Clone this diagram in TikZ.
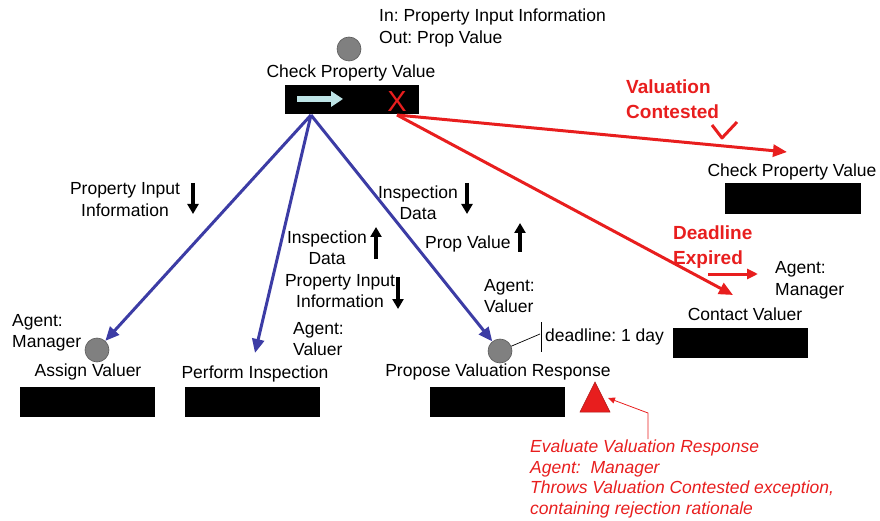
\documentclass[tikz,border=0pt]{standalone}
\usepackage{fontspec}
\setmainfont{Liberation Sans}
\usetikzlibrary{arrows.meta}
\definecolor{bl}{RGB}{60,60,165}
\definecolor{rd}{RGB}{232,30,30}
\definecolor{pale}{RGB}{190,228,230}
\definecolor{actorgray}{RGB}{128,128,128}
\frenchspacing
\begin{document}
\begin{tikzpicture}[x=1pt,y=-1pt,
  every node/.style={font=\fontsize{17.5}{21.5}\selectfont, inner sep=0pt},
  lbl/.style={align=center},
  lleft/.style={align=left, anchor=west},
  box/.style={fill=black, minimum width=135pt, minimum height=30pt},
  actor/.style={circle, fill=actorgray, draw=actorgray!70!black, line width=0.6pt, minimum size=24pt},
  blarrow/.style={draw=bl, line width=3pt, -{Triangle[length=14pt,width=12pt]}},
  rdarrow/.style={draw=rd, line width=3pt, -{Triangle[length=14pt,width=12pt]}},
  flow/.style={draw=black, line width=3.4pt, -{Triangle[length=10pt,width=11pt]}},
  redhead/.style={font=\bfseries\fontsize{19}{25}\selectfont, text=rd, align=left, anchor=west}
]
\useasboundingbox (0,0) rectangle (880,521);

% ---------- top task ----------
\node[lleft] (io) at (379,28) {In: Property Input Information\\Out: Prop Value};
\node[actor] (topc) at (349,49) {};
\node (cpv) at (351,72.5) {Check Property Value};
\node[box, minimum width=134pt, minimum height=29pt] (bar) at (352,99.5) {};
\coordinate (pa1) at (297,99);
\coordinate (pa2) at (343,99);
\draw[pale, line width=6pt, -{Triangle[length=12pt,width=15pt]}] (pa1) -- (pa2);
\node[text=rd, font=\fontsize{29}{29}\selectfont] (xx) at (397,102) {X};
\coordinate (hub) at (311,115);
\coordinate (xo) at (397,115);

% ---------- assign valuer ----------
\node[lleft] (am) at (12,333) {Agent:\\Manager};
\node[actor] (avc) at (97,350) {};
\node (av) at (88,371.5) {Assign Valuer};
\node[box] (b1) at (87.5,401.5) {};

% ---------- perform inspection ----------
\node[lleft] (pv1) at (293,339) {Agent:\\Valuer};
\coordinate (pin) at (255,353);
\node (pi) at (255,373.5) {Perform Inspection};
\node[box] (b2) at (252.5,401.5) {};

% ---------- propose valuation response ----------
\node[lleft] (pv2) at (484,296) {Agent:\\Valuer};
\node[actor] (prc) at (500,351) {};
\node (pr) at (498,371.5) {Propose Valuation Response};
\node[box] (b3) at (497.5,402) {};
\coordinate (dl) at (540,334);
\coordinate (dlt) at (541,322);
\coordinate (dlb) at (541,352);
\draw[line width=0.7pt] (prc) -- (dl);
\draw[line width=0.8pt] (dlt) -- (dlb);
\node[lleft] (dlx) at (545,337) {deadline: 1 day};

% red triangle (evaluate valuation response)
\coordinate (ta) at (595,382);
\coordinate (tl) at (580,412);
\coordinate (tr) at (610,412);
\filldraw[fill=rd, draw=rd!75!black, line width=0.5pt] (ta) -- (tl) -- (tr) -- cycle;
\node[font=\itshape\fontsize{17.5}{20.5}\selectfont, text=rd, align=left, anchor=north west] (ev) at (530,440)
  {Evaluate Valuation Response\\Agent:\ \ Manager\\Throws Valuation Contested exception,\\containing rejection rationale};
\coordinate (ev1) at (648,439);
\coordinate (ev2) at (648,413);
\coordinate (ev3) at (608,398);
\draw[rd, line width=0.8pt, -{Triangle[length=7pt,width=6pt]}] (ev1) -- (ev2) -- (ev3);

% ---------- right: check property value ----------
\node (cpv2) at (792,172) {Check Property Value};
\node[box, minimum width=136pt, minimum height=31pt] (b4) at (793,199) {};
\coordinate (cpvin) at (787,152);
\node[redhead] (vc) at (626,99.5) {Valuation\\Contested};
\coordinate (ck1) at (712,125);
\coordinate (ck2) at (722,138);
\coordinate (ck3) at (737,122);
\draw[rd, line width=3pt, line join=round] (ck1) -- (ck2) -- (ck3);

% ---------- right: contact valuer ----------
\node[redhead] (de) at (673,247) {Deadline\\Expired};
\coordinate (de1) at (708,274);
\coordinate (de2) at (758,274);
\draw[rdarrow, -{Triangle[length=11pt,width=10pt]}] (de1) -- (de2);
\node[lleft] (am2) at (775,280.5) {Agent:\\Manager};
\coordinate (cvin) at (733,295);
\node (cv) at (745,314.5) {Contact Valuer};
\node[box] (b5) at (740.5,342.5) {};

% ---------- connectors ----------
\draw[blarrow] (hub) -- (avc);
\draw[blarrow] (hub) -- (pin);
\draw[blarrow] (hub) -- (prc);
\draw[rdarrow] (xo) -- (cpvin);
\draw[rdarrow] (xo) -- (cvin);

% ---------- data flow labels ----------
\node[lbl] (f1) at (125,199.5) {Property Input\\Information};
\coordinate (f1a) at (193,183); \coordinate (f1b) at (193,214);
\draw[flow] (f1a) -- (f1b);

\node[lbl] (f2) at (418,202.5) {Inspection\\Data};
\coordinate (f2a) at (467,183); \coordinate (f2b) at (467,214);
\draw[flow] (f2a) -- (f2b);

\node[lbl] (f3) at (327,247.5) {Inspection\\Data};
\coordinate (f3a) at (376,259); \coordinate (f3b) at (376,227);
\draw[flow] (f3a) -- (f3b);

\node[lleft] (f4) at (425,244) {Prop Value};
\coordinate (f4a) at (520,252); \coordinate (f4b) at (520,223);
\draw[flow] (f4a) -- (f4b);

\node[lbl] (f5) at (340,291) {Property Input\\Information};
\coordinate (f5a) at (398,277); \coordinate (f5b) at (398,309);
\draw[flow] (f5a) -- (f5b);
\end{tikzpicture}
\end{document}
